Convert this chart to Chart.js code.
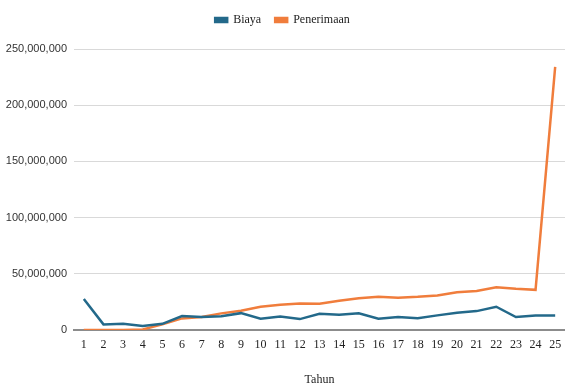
<!DOCTYPE html>
<html>
<head>
<meta charset="utf-8">
<script src="https://cdn.jsdelivr.net/npm/chart.js@4"></script>
<style>
  html, body { margin: 0; padding: 0; background: #fff; }
  #wrap { width: 565px; height: 387px; }
</style>
</head>
<body>
<div id="wrap"><canvas id="chart"></canvas></div>
<script>
const tahun = ['1','2','3','4','5','6','7','8','9','10','11','12','13','14','15','16','17','18','19','20','21','22','23','24','25'];
const biaya = [27.6, 5.0, 5.6, 3.5, 5.5, 12.4, 11.5, 12.3, 15.0, 10.0, 11.9, 9.7, 14.5, 13.6, 14.8, 10.0, 11.5, 10.4, 13.0, 15.4, 16.8, 20.7, 11.5, 13.0, 13.0];
const penerimaan = [0, 0, 0, 0.5, 5.0, 10.3, 11.5, 14.8, 17.2, 20.7, 22.5, 23.6, 23.4, 26.0, 28.3, 29.5, 28.7, 29.5, 30.7, 33.6, 34.8, 38.0, 36.6, 35.7, 234.0];
const yTicks = [0, 50000000, 100000000, 150000000, 200000000, 250000000];

const toRupiah = arr => arr.map(v => v * 1000000);

// extra gap under the legend
const legendGap = {
    id: 'legendGap',
    beforeInit(chart) {
        const fit = chart.legend.fit;
        chart.legend.fit = function () {
            fit.bind(chart.legend)();
            this.height += 13;
        };
    }
};

const ctx = document.getElementById('chart').getContext('2d');

new Chart(ctx, {
    type: 'line',
    data: {
        labels: tahun,
        datasets: [
            {
                label: 'Biaya',
                data: toRupiah(biaya),
                borderColor: '#23698a',
                backgroundColor: '#23698a',
                borderWidth: 2.5,
                pointRadius: 0,
                tension: 0
            },
            {
                label: 'Penerimaan',
                data: toRupiah(penerimaan),
                borderColor: '#f07d3c',
                backgroundColor: '#f07d3c',
                borderWidth: 2.5,
                pointRadius: 0,
                tension: 0
            }
        ]
    },
    plugins: [legendGap],
    options: {
        responsive: true,
        maintainAspectRatio: false,
        animation: false,
        layout: { padding: { top: 0, left: 0, right: 0, bottom: 0 } },
        plugins: {
            legend: {
                position: 'top',
                labels: {
                    boxWidth: 12,
                    boxHeight: 4,
                    padding: 14,
                    color: '#222',
                    font: { family: 'Liberation Serif', size: 12 }
                }
            },
            tooltip: { enabled: false }
        },
        scales: {
            x: {
                offset: true,
                grid: { display: false, drawTicks: false },
                border: { display: true, color: '#8c8c8c', width: 2 },
                ticks: {
                    padding: 8,
                    color: '#222',
                    maxRotation: 0,
                    autoSkip: false,
                    font: { family: 'Liberation Serif', size: 12 }
                },
                title: {
                    display: true,
                    text: 'Tahun',
                    color: '#222',
                    padding: { top: 0, bottom: 0 },
                    font: { family: 'Liberation Serif', size: 12 }
                },
                afterFit: s => { s.height = 57; s.paddingRight = 0; }
            },
            y: {
                min: 0,
                max: 250000000,
                afterBuildTicks: s => { s.ticks = yTicks.map(v => ({ value: v })); },
                grid: { color: '#d9d9d9', lineWidth: 1, drawTicks: false },
                border: { display: false },
                ticks: {
                    padding: 7,
                    color: '#333',
                    font: { family: 'Liberation Sans', size: 11 },
                    callback: v => v.toLocaleString('en-US')
                },
                afterFit: s => { s.width = 74; }
            }
        }
    }
});
</script>
</body>
</html>
